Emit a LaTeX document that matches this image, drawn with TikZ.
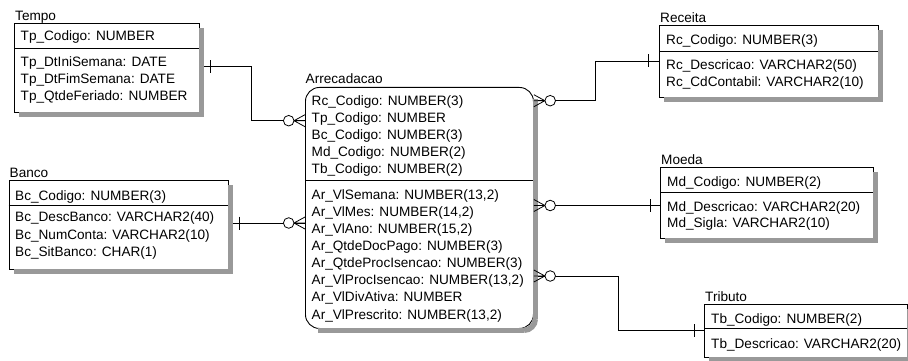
\documentclass[tikz,border=0pt]{standalone}
\usepackage{fontspec}
\setmainfont{Liberation Sans}
\usetikzlibrary{calc}
\tikzset{
  pics/crowz/.style={code={
    \draw[line width=0.8pt] (0,-6) -- (11,0) (0,0) -- (11,0) (0,6) -- (11,0);
    \draw[line width=0.8pt, fill=white] (16.3,0) circle[radius=5.3];
  }},
  pics/onebar/.style={code={
    \draw[line width=0.8pt] (0,-6.5) -- (0,6.5);
  }}
}
\begin{document}
\begin{tikzpicture}[x=1pt,y=-1pt,
  font=\fontsize{13.6}{16}\selectfont,
  ent/.style={draw, line width=0.9pt, fill=white, anchor=north west, inner sep=0pt},
  row/.style={anchor=base west, inner sep=0pt},
  conn/.style={line width=0.9pt},
  shadowline/.style={draw=black!40, line width=4.6pt, line join=miter, line cap=butt},
  divider/.style={line width=0.9pt}]
\useasboundingbox (0,0) rectangle (908,361);

% entities
\node[ent, minimum width=185pt, minimum height=89pt] (tempo) at (14,23) {};
\node[ent, minimum width=219.5pt, minimum height=89pt] (banco) at (8.5,180) {};
\node[ent, rounded corners=14pt, minimum width=228pt, minimum height=241pt] (arr) at (305,87) {};
\node[ent, minimum width=219pt, minimum height=72pt] (receita) at (659,25) {};
\node[ent, minimum width=213pt, minimum height=71pt] (moeda) at (660,167) {};
\node[ent, minimum width=203pt, minimum height=53pt] (tributo) at (704,304) {};

% dividers
\draw[divider] ($(tempo.north west)+(0,25.3)$) -- ($(tempo.north east)+(0,25.3)$);
\draw[divider] ($(banco.north west)+(0,25)$) -- ($(banco.north east)+(0,25)$);
\draw[divider] ($(arr.north west)+(0,93)$) -- ($(arr.north east)+(0,93)$);
\draw[divider] ($(receita.north west)+(0,26)$) -- ($(receita.north east)+(0,26)$);
\draw[divider] ($(moeda.north west)+(0,25)$) -- ($(moeda.north east)+(0,25)$);
\draw[divider] ($(tributo.north west)+(0,24)$) -- ($(tributo.north east)+(0,24)$);

% titles
\node[row] (tempoT) at (15,20.5) {Tempo};
\node[row] (bancoT) at (9.5,177.5) {Banco};
\node[row] (arrT) at (305.5,83.5) {Arrecadacao};
\node[row] (receitaT) at (660,22.5) {Receita};
\node[row] (moedaT) at (661,164.5) {Moeda};
\node[row] (tributoT) at (705,301.5) {Tributo};

% Tempo rows
\node[row] (tp1) at (20.5,40.5) {Tp\_Codigo: NUMBER};
\node[row] (tp2) at (20.5,66.5) {Tp\_DtIniSemana: DATE};
\node[row] (tp3) at (20.5,83.5) {Tp\_DtFimSemana: DATE};
\node[row] (tp4) at (20.5,100.5) {Tp\_QtdeFeriado: NUMBER};

% Banco rows
\node[row] (bc1) at (15,200) {Bc\_Codigo: NUMBER(3)};
\node[row] (bc2) at (15,221.7) {Bc\_DescBanco: VARCHAR2(40)};
\node[row] (bc3) at (15,239) {Bc\_NumConta: VARCHAR2(10)};
\node[row] (bc4) at (15,256.5) {Bc\_SitBanco: CHAR(1)};

% Arrecadacao rows
\node[row] (ar1) at (311.5,105.7) {Rc\_Codigo: NUMBER(3)};
\node[row] (ar2) at (311.5,122.6) {Tp\_Codigo: NUMBER};
\node[row] (ar3) at (311.5,139.5) {Bc\_Codigo: NUMBER(3)};
\node[row] (ar4) at (311.5,156.4) {Md\_Codigo: NUMBER(2)};
\node[row] (ar5) at (311.5,173.3) {Tb\_Codigo: NUMBER(2)};
\node[row] (ar6) at (311.5,199) {Ar\_VlSemana: NUMBER(13,2)};
\node[row] (ar7) at (311.5,216.1) {Ar\_VlMes: NUMBER(14,2)};
\node[row] (ar8) at (311.5,233.3) {Ar\_VlAno: NUMBER(15,2)};
\node[row] (ar9) at (311.5,250.4) {Ar\_QtdeDocPago: NUMBER(3)};
\node[row] (ar10) at (311.5,267.6) {Ar\_QtdeProcIsencao: NUMBER(3)};
\node[row] (ar11) at (311.5,284.7) {Ar\_VlProcIsencao: NUMBER(13,2)};
\node[row] (ar12) at (311.5,301.9) {Ar\_VlDivAtiva: NUMBER};
\node[row] (ar13) at (311.5,319) {Ar\_VlPrescrito: NUMBER(13,2)};

% Receita rows
\node[row] (rc1) at (666,45) {Rc\_Codigo: NUMBER(3)};
\node[row] (rc2) at (666,70) {Rc\_Descricao: VARCHAR2(50)};
\node[row] (rc3) at (666,86) {Rc\_CdContabil: VARCHAR2(10)};

% Moeda rows
\node[row] (md1) at (667,186.5) {Md\_Codigo: NUMBER(2)};
\node[row] (md2) at (667,211.5) {Md\_Descricao: VARCHAR2(20)};
\node[row] (md3) at (667,227) {Md\_Sigla: VARCHAR2(10)};

% Tributo rows
\node[row] (tb1) at (711,323) {Tb\_Codigo: NUMBER(2)};
\node[row] (tb2) at (711,348) {Tb\_Descricao: VARCHAR2(20)};

% connector end points
\coordinate (tpA) at ($(tempo.north east)+(0,43.7)$);
\coordinate (tpB) at ($(arr.north west)+(0,33.7)$);
\coordinate (tmid) at (251,0);
\coordinate (bcA) at ($(banco.north east)+(0,43)$);
\coordinate (bcB) at ($(arr.north west)+(0,136)$);
\coordinate (rcA) at ($(arr.north east)+(0,13.7)$);
\coordinate (rcB) at ($(receita.north west)+(0,36)$);
\coordinate (rmid) at (595,0);
\coordinate (mdA) at ($(arr.north east)+(0,118.5)$);
\coordinate (mdB) at ($(moeda.north west)+(0,38.5)$);
\coordinate (tbA) at ($(arr.north east)+(0,189)$);
\coordinate (tbB) at ($(tributo.north west)+(0,26.7)$);
\coordinate (bmid) at (618,0);

% connectors
\draw[conn] (tpA) -- (tpA -| tmid) |- (tpB);
\draw[conn] (bcA) -- (bcB);
\draw[conn] (rcA) -- (rcA -| rmid) |- (rcB);
\draw[conn] (mdA) -- (mdB);
\draw[conn] (tbA) -- (tbA -| bmid) |- (tbB);

% shadows: grey strips on the right and bottom of each box
\draw[shadowline] (201.7,28) -- (201.7,114.7) -- (19,114.7);
\draw[shadowline] (230.7,185) -- (230.7,271.7) -- (13.5,271.7);
\draw[shadowline] (880.7,30) -- (880.7,99.7) -- (664,99.7);
\draw[shadowline] (875.7,172) -- (875.7,240.7) -- (665,240.7);
\draw[shadowline] (909.7,309) -- (909.7,359.7) -- (709,359.7);
\draw[shadowline] (535.7,99) -- (535.7,319);
\draw[shadowline] (524,330.7) -- (318,330.7);
\draw[shadowline, line width=5.5pt] (535.25,319) arc[start angle=0, end angle=90, radius=11.25];

% markers
\pic[xscale=-1] at (tpB) {crowz};
\pic[xscale=-1] at (bcB) {crowz};
\pic at (rcA) {crowz};
\pic at (mdA) {crowz};
\pic at (tbA) {crowz};
\pic at ($(tpA)+(10.5,0)$) {onebar};
\pic at ($(bcA)+(10,0)$) {onebar};
\pic at ($(rcB)+(-10.5,0)$) {onebar};
\pic at ($(mdB)+(-10,0)$) {onebar};
\pic at ($(tbB)+(-10,0)$) {onebar};
\end{tikzpicture}
\end{document}
